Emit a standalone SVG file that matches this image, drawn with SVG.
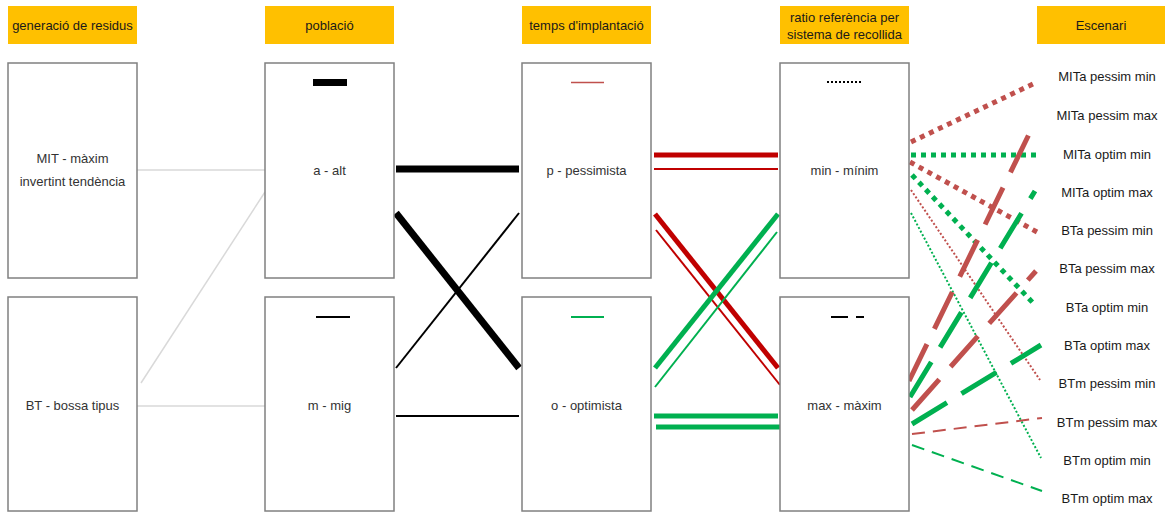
<svg xmlns="http://www.w3.org/2000/svg" width="1165" height="513" viewBox="0 0 1165 513">
<style>
.hdr{fill:#FFC000}
.box{fill:#fff;stroke:#808080;stroke-width:1.5}
text{font-family:"Liberation Sans",Arial,sans-serif;font-size:13px;text-anchor:middle;fill:#1a1a1a}
.lbl{fill:#333}
.g{stroke:#d9d9d9;stroke-width:1.5;fill:none}
.blk{stroke:#000;fill:none}
.r{stroke:#C00000;fill:none}
.gr{stroke:#00B050;fill:none}
.sr{stroke:#C0504D;fill:none}
.sg{stroke:#00B050;fill:none}
.dotT{stroke-width:5;stroke-dasharray:5 5}
.dotS{stroke-width:2;stroke-dasharray:2 2}
.dashT{stroke-width:5;stroke-dasharray:41 17}
.dashS{stroke-width:2;stroke-dasharray:13 8}
</style>
<rect width="1165" height="513" fill="#fff"/>
<g id="headers">
<rect class="hdr" x="8" y="6" width="129" height="38"/>
<text x="72.5" y="29.5">generació de residus</text>
<rect class="hdr" x="265" y="6" width="129" height="38"/>
<text x="329.5" y="29.5">població</text>
<rect class="hdr" x="522" y="6" width="129" height="38"/>
<text x="586.5" y="29.5">temps d'implantació</text>
<rect class="hdr" x="780" y="6" width="129" height="38"/>
<text x="844.5" y="22">ratio referència per</text>
<text x="844.5" y="39">sistema de recollida</text>
<rect class="hdr" x="1037" y="6" width="128" height="38"/>
<text x="1101" y="29.5">Escenari</text>
</g>
<g id="connectors">
<line class="g" x1="137" y1="170" x2="265" y2="170"/>
<line class="g" x1="141" y1="383" x2="265" y2="192"/>
<line class="g" x1="137" y1="406" x2="265" y2="406"/>
<line class="blk" stroke-width="7" x1="396" y1="169" x2="519" y2="169"/>
<line class="blk" stroke-width="7" x1="396" y1="213" x2="519" y2="368"/>
<line class="blk" stroke-width="2" x1="396" y1="368" x2="519" y2="213"/>
<line class="blk" stroke-width="2" x1="396" y1="416" x2="519" y2="416"/>
<line class="r" stroke-width="5" x1="654" y1="155" x2="778" y2="155"/>
<line class="r" stroke-width="2" x1="654" y1="169" x2="778" y2="169"/>
<line class="r" stroke-width="5" x1="655" y1="214" x2="778" y2="368"/>
<line class="r" stroke-width="2" x1="656" y1="230" x2="780" y2="385"/>
<line class="gr" stroke-width="5" x1="655" y1="368" x2="778" y2="214"/>
<line class="gr" stroke-width="2" x1="655" y1="387" x2="777" y2="232"/>
<line class="gr" stroke-width="5" x1="654" y1="416" x2="778" y2="416"/>
<line class="gr" stroke-width="5" x1="656" y1="427" x2="780" y2="427"/>
<line class="sr dotT" x1="911" y1="142" x2="1035" y2="83"/>
<line class="sg dotT" x1="911" y1="155" x2="1036" y2="155"/>
<line class="sr dotT" x1="910" y1="162" x2="1037" y2="232"/>
<line class="sg dotT" x1="912" y1="175" x2="1035" y2="305"/>
<line class="sr dotS" x1="911" y1="190" x2="1040" y2="380"/>
<line class="sg dotS" x1="911" y1="213" x2="1041" y2="458"/>
<line class="sr dashT" x1="909" y1="381" x2="1033" y2="126"/>
<line class="sg dashT" x1="910" y1="397" x2="1035" y2="191"/>
<line class="sr dashT" x1="912" y1="410" x2="1036" y2="271"/>
<line class="sg dashT" x1="912" y1="424" x2="1041" y2="345"/>
<line class="sr dashS" x1="912" y1="434" x2="1042" y2="418"/>
<line class="sg dashS" x1="912" y1="445" x2="1042" y2="491"/>
</g>
<g id="node-MIT">
<rect class="box" x="8" y="63" width="129" height="215"/>
<text class="lbl" x="72.5" y="163">MIT - màxim</text>
<text class="lbl" x="72.5" y="186">invertint tendència</text>
</g>
<g id="node-BT">
<rect class="box" x="8" y="297" width="129" height="214"/>
<text class="lbl" x="72.5" y="410">BT - bossa tipus</text>
</g>
<g id="node-a">
<rect class="box" x="265" y="63" width="129" height="215"/>
<rect x="313" y="79" width="34" height="7" fill="#000"/>
<text class="lbl" x="329.5" y="175">a - alt</text>
</g>
<g id="node-m">
<rect class="box" x="265" y="297" width="129" height="214"/>
<line x1="316" y1="317" x2="350" y2="317" stroke="#000" stroke-width="2"/>
<text class="lbl" x="329.5" y="410">m - mig</text>
</g>
<g id="node-p">
<rect class="box" x="522" y="63" width="129" height="215"/>
<line x1="571" y1="82.5" x2="604" y2="82.5" stroke="#C0504D" stroke-width="1.5"/>
<text class="lbl" x="586.5" y="175">p - pessimista</text>
</g>
<g id="node-o">
<rect class="box" x="522" y="297" width="129" height="214"/>
<line x1="571" y1="317" x2="604" y2="317" stroke="#00B050" stroke-width="2"/>
<text class="lbl" x="586.5" y="410">o - optimista</text>
</g>
<g id="node-min">
<rect class="box" x="780" y="63" width="129" height="215"/>
<line x1="827" y1="82" x2="861" y2="82" stroke="#000" stroke-width="2" stroke-dasharray="2 2"/>
<text class="lbl" x="844.5" y="175">min - mínim</text>
</g>
<g id="node-max">
<rect class="box" x="780" y="297" width="129" height="214"/>
<line x1="831" y1="317" x2="848" y2="317" stroke="#000" stroke-width="2"/>
<line x1="856" y1="317" x2="864" y2="317" stroke="#000" stroke-width="2"/>
<text class="lbl" x="844.5" y="410">max - màxim</text>
</g>
<g id="scenarios">
<text x="1107" y="80.5">MITa pessim min</text>
<text x="1107" y="119.5">MITa pessim max</text>
<text x="1107" y="158.5">MITa optim min</text>
<text x="1107" y="196.5">MITa optim max</text>
<text x="1107" y="234.5">BTa pessim min</text>
<text x="1107" y="272.5">BTa pessim max</text>
<text x="1107" y="311.5">BTa optim min</text>
<text x="1107" y="349.5">BTa optim max</text>
<text x="1107" y="387.5">BTm pessim min</text>
<text x="1107" y="426.5">BTm pessim max</text>
<text x="1107" y="464.5">BTm optim min</text>
<text x="1107" y="502.5">BTm optim max</text>
</g>
</svg>
